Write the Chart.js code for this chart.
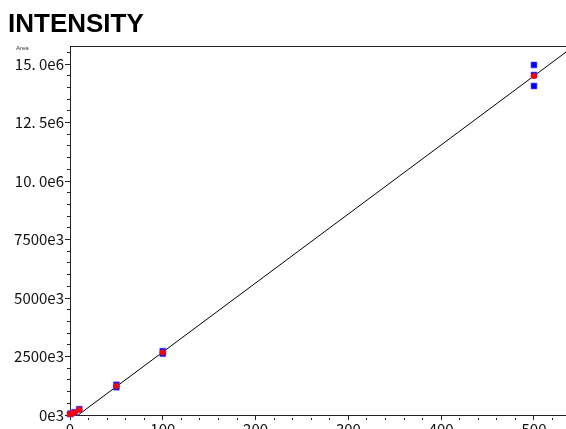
<!DOCTYPE html>
<html>
<head>
<meta charset="utf-8">
<script src="https://cdn.jsdelivr.net/npm/chart.js@4"></script>
<style>
  html, body { margin: 0; padding: 0; width: 566px; height: 429px; overflow: hidden; background: #fff; }
  #wrap { position: relative; width: 566px; height: 429px; }
  #title { position: absolute; left: 8px; top: 8px; font: bold 26px "Liberation Sans", Arial, sans-serif; color: #000; line-height: 30px; }
  #ylab { position: absolute; left: 16px; top: 45px; font: 6px "Liberation Sans", Arial, sans-serif; color: #333; line-height: 7px; }
  canvas { position: absolute; left: 0; top: 0; }
</style>
</head>
<body>
<div id="wrap">
  <canvas id="c" width="566" height="445"></canvas>
  <div id="title">INTENSITY</div>
  <div id="ylab">Area</div>
</div>
<script>
// Calibration standards: concentration vs. peak area
const concentrations = [0, 1, 5, 10, 50, 50, 100, 100, 500, 500, 500];
const areaReplicates = [0.04e6, 0.06e6, 0.12e6, 0.25e6, 1.29e6, 1.19e6, 2.73e6, 2.62e6, 14.96e6, 14.53e6, 14.06e6];

const meanConc = [0, 1, 5, 10, 50, 100, 500];
const meanArea = [0.03e6, 0.05e6, 0.11e6, 0.22e6, 1.24e6, 2.67e6, 14.49e6];

// Fitted calibration line endpoints
const fitConc = [8.8, 534.5];
const fitArea = [0, 15.51e6];

// Y tick labels at every 2.5e6
const yTickLabels = ["0e3", "2500e3", "5000e3", "7500e3", "10. 0e6", "12. 5e6", "15. 0e6"];
const yMajorStep = 2.5e6;
const yMinorStep = 0.5e6;
const xMajorStep = 100;
const xMinorStep = 20;

const pairs = (xs, ys) => xs.map((x, i) => ({ x: x, y: ys[i] }));
const isMultiple = (v, step) => Math.abs(v / step - Math.round(v / step)) < 1e-6;

// Regular ticks from min up to max, one every `step`
const stepTicks = (step) => (scale) => {
  const ticks = [];
  for (let i = 0; i * step <= scale.max + 1e-9; i++) ticks.push({ value: scale.min + i * step });
  scale.ticks = ticks;
};

const tickFont = { family: "'Noto Sans CJK JP', 'DejaVu Sans', sans-serif", size: 15 };
const axisColor = '#222';
const minorDash = [0, 2, 3, 0];

new Chart(document.getElementById('c'), {
  type: 'scatter',
  data: {
    datasets: [
      {
        label: 'mean',
        data: pairs(meanConc, meanArea),
        pointStyle: 'circle',
        pointRadius: 3,
        backgroundColor: '#ff0000',
        borderColor: '#ff0000',
        borderWidth: 0,
        clip: false,
        order: 0
      },
      {
        label: 'replicates',
        data: pairs(concentrations, areaReplicates),
        pointStyle: 'rect',
        pointRadius: 4.2,
        backgroundColor: '#0000ff',
        borderColor: 'rgba(90,90,255,0.6)',
        borderWidth: 1,
        clip: false,
        order: 1
      },
      {
        label: 'fit',
        type: 'line',
        data: pairs(fitConc, fitArea),
        borderColor: '#000',
        borderWidth: 1,
        pointRadius: 0,
        fill: false,
        order: 2
      }
    ]
  },
  options: {
    responsive: false,
    animation: false,
    layout: { autoPadding: false, padding: { top: 46, left: 0, right: 0, bottom: 0 } },
    plugins: { legend: { display: false }, tooltip: { enabled: false }, title: { display: false } },
    scales: {
      x: {
        type: 'linear',
        position: 'bottom',
        min: 0,
        max: 534.5,
        afterBuildTicks: stepTicks(xMinorStep),
        afterFit: (s) => { s.height = 30; s.paddingLeft = 0; s.paddingRight = 0; },
        border: { display: true, color: axisColor, width: 1 },
        grid: {
          drawOnChartArea: false,
          drawTicks: true,
          tickLength: 5,
          tickColor: axisColor,
          tickBorderDash: (ctx) => (ctx.tick && isMultiple(ctx.tick.value, xMajorStep)) ? [] : minorDash
        },
        ticks: {
          autoSkip: false,
          maxRotation: 0,
          padding: 0,
          color: '#111',
          font: tickFont,
          callback: (v) => (isMultiple(v, xMajorStep) ? String(Math.round(v)) : '')
        }
      },
      x2: {
        type: 'linear',
        position: 'top',
        min: 0,
        max: 534.5,
        afterFit: (s) => { s.height = 0; s.paddingLeft = 0; s.paddingRight = 0; },
        border: { display: true, color: axisColor, width: 1 },
        grid: { display: false, drawTicks: false },
        ticks: { display: false }
      },
      y: {
        type: 'linear',
        position: 'left',
        min: 0,
        max: 15.77e6,
        afterBuildTicks: stepTicks(yMinorStep),
        afterFit: (s) => { s.width = 70; s.paddingTop = 0; s.paddingBottom = 0; },
        border: { display: true, color: axisColor, width: 1 },
        grid: {
          drawOnChartArea: false,
          drawTicks: true,
          tickLength: 5,
          tickColor: axisColor,
          tickBorderDash: (ctx) => (ctx.tick && isMultiple(ctx.tick.value, yMajorStep)) ? [] : minorDash
        },
        ticks: {
          autoSkip: false,
          padding: 1,
          color: '#111',
          font: tickFont,
          callback: (v) => (isMultiple(v, yMajorStep) ? yTickLabels[Math.round(v / yMajorStep)] : '')
        }
      }
    }
  }
});
</script>
</body>
</html>
